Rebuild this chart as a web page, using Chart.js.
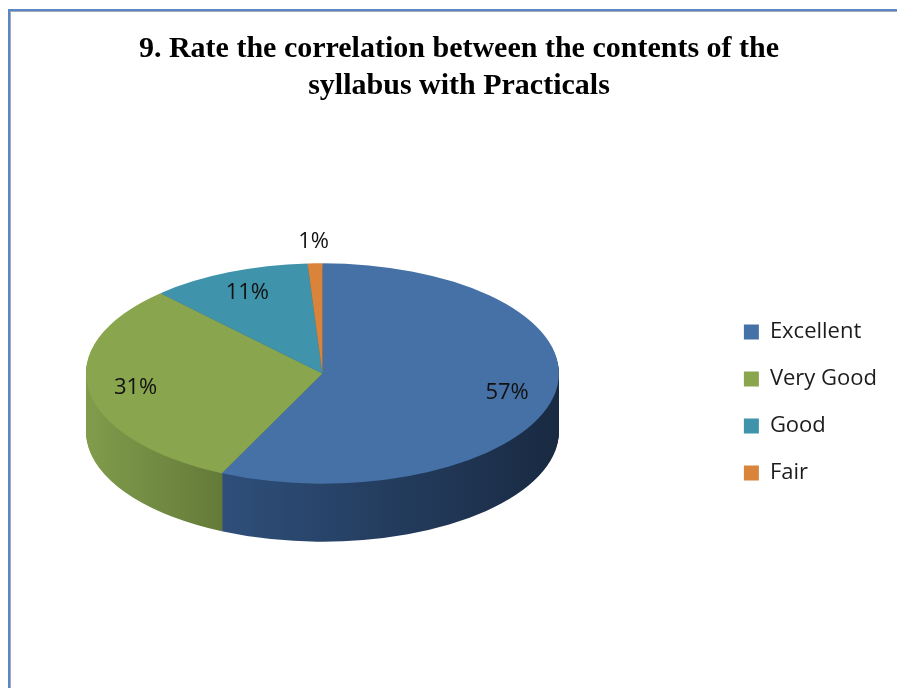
<!DOCTYPE html>
<html>
<head>
<meta charset="utf-8">
<script src="https://cdn.jsdelivr.net/npm/chart.js@4.4.1/dist/chart.umd.min.js"></script>
<style>
    body { margin: 0; background: #fff; overflow: hidden; }
    #wrap { position: absolute; left: 0; top: 0; width: 897px; height: 688px; }
    #frame {
        position: absolute; left: 8px; top: 9px; right: -10px; bottom: -10px;
        border-top: 2px solid #5a86c8; border-left: 2px solid #5a86c8;
        box-shadow: inset 1px 1px 0 #a3aab4; pointer-events: none;
    }
</style>
</head>
<body>
<div id="wrap">
    <canvas id="pieChart" width="897" height="688"></canvas>
    <div id="frame"></div>
</div>
<script>
var categories = ["Excellent", "Very Good", "Good", "Fair"];
var shares = [57, 31, 11, 1];
var topColors = ["#4571a6", "#89a54e", "#3f94ab", "#d9843a"];
var sideLeft = ["#375e91", "#809c4b", "#2f7388", "#b06a2e"];
var sideRight = ["#192a42", "#20270e", "#1d4a58", "#7a4820"];

var tilt = 0.466;     // vertical squash of the pie top
var depth = 58;       // height of the side wall, px
var legendGap = 105;  // empty space between pie area and legend

// draw one slice squashed onto an ellipse whose centre is at cy
function drawFlat(ctx, arc, x, y, cy) {
    ctx.save();
    ctx.translate(x, cy);
    ctx.scale(1, tilt);
    ctx.translate(-x, -y);
    arc.draw(ctx);
    ctx.restore();
}

var pie3d = {
    id: 'pie3d',
    beforeInit: function (chart) {
        // blank box that keeps the legend away from the pie
        Chart.layouts.addBox(chart, {
            position: 'right', weight: 500, fullSize: false, options: {},
            left: 0, top: 0, right: 0, bottom: 0, width: 0, height: 0,
            isHorizontal: function () { return false; },
            update: function (maxWidth, maxHeight) { this.width = legendGap; this.height = maxHeight; },
            draw: function () {}
        });
    },
    beforeDatasetDraw: function (chart, args) {
        var ctx = chart.ctx;
        var arcs = args.meta.data;
        var x = arcs[0].x, y = arcs[0].y, r = arcs[0].outerRadius;
        var top = y - depth / 2;

        var sides = arcs.map(function (arc, i) {
            var g = ctx.createLinearGradient(x - r, 0, x + r, 0);
            g.addColorStop(0, sideLeft[i]);
            g.addColorStop(1, sideRight[i]);
            var copy = Object.create(arc);
            copy.options = Object.assign({}, arc.options, { backgroundColor: g, borderWidth: 0 });
            return copy;
        });
        for (var d = depth; d > 0; d--) {
            sides.forEach(function (a) { drawFlat(ctx, a, x, y, top + d); });
        }
        arcs.forEach(function (a) { drawFlat(ctx, a, x, y, top); });
        return false;
    },
    afterDatasetsDraw: function (chart) {
        var ctx = chart.ctx;
        var arcs = chart.getDatasetMeta(0).data;
        var x = arcs[0].x, y = arcs[0].y, r = arcs[0].outerRadius;
        var top = y - depth / 2;
        var total = shares.reduce(function (a, b) { return a + b; }, 0);
        ctx.save();
        ctx.font = "22px 'Open Sans', sans-serif";
        ctx.fillStyle = "#111";
        ctx.textAlign = "center";
        ctx.textBaseline = "middle";
        arcs.forEach(function (arc, i) {
            var pct = Math.round(shares[i] / total * 100);
            var mid = (arc.startAngle + arc.endAngle) / 2;
            var f = pct < 5 ? 1.2 : 0.8;
            ctx.fillText(pct + "%", x + Math.cos(mid) * r * f, top + Math.sin(mid) * r * f * tilt);
        });
        ctx.restore();
    }
};

var pieData = {
    labels: categories,
    datasets: [{
        data: shares,
        backgroundColor: topColors,
        borderWidth: 0
    }]
};

var pieOptions = {
    responsive: false,
    animation: false,
    layout: { padding: { left: 31, right: 10, top: 0, bottom: 49 } },
    plugins: {
        title: {
            display: true,
            text: ["9. Rate the correlation between the contents of the", "syllabus with Practicals"],
            color: "#000",
            font: { family: "'Liberation Serif', 'Times New Roman', serif", size: 30, weight: "bold", lineHeight: 37 / 30 },
            padding: { top: 31, bottom: 61 }
        },
        legend: {
            position: "right",
            fullSize: false,
            labels: {
                boxWidth: 15,
                boxHeight: 15,
                padding: 25,
                color: "#1c1c1c",
                font: { family: "'Open Sans', sans-serif", size: 22 }
            }
        },
        tooltip: { enabled: false }
    }
};

var ctx2 = document.getElementById("pieChart").getContext("2d");
new Chart(ctx2, { type: 'pie', data: pieData, options: pieOptions, plugins: [pie3d] });
</script>
</body>
</html>
